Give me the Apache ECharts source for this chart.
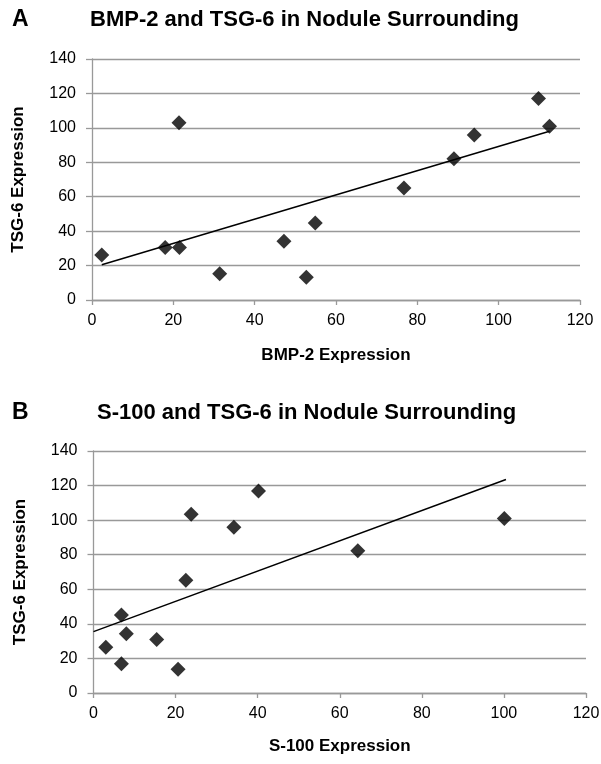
<!DOCTYPE html>
<html>
<head>
<meta charset="utf-8">
<script src="https://cdn.jsdelivr.net/npm/echarts@6/dist/echarts.min.js"></script>
<style>
html,body{margin:0;padding:0;background:#fff;}
#chart{width:601px;height:764px;}
</style>
</head>
<body>
<div id="chart"></div>
<script>
// Panel A: BMP-2 vs TSG-6
const bmp2 = [2.4, 18.0, 21.4, 21.5, 31.4, 47.2, 52.7, 54.9, 76.7, 89.0, 94.0, 109.8, 112.5];
const tsgA = [26.1, 30.5, 103.0, 30.5, 15.3, 34.1, 13.2, 44.8, 65.1, 82.1, 95.9, 117.0, 100.9];
const trendAx = [2.4, 112.5];
const trendAy = [20.5, 98.0];

// Panel B: S-100 vs TSG-6
const s100 = [3.0, 6.8, 6.8, 8.0, 15.4, 20.6, 22.5, 23.8, 34.2, 40.2, 64.4, 100.1];
const tsgB = [26.5, 45.1, 16.9, 34.3, 30.9, 13.8, 65.2, 103.4, 95.9, 116.8, 82.3, 100.9];
const trendBx = [0, 100.5];
const trendBy = [35.5, 123.5];

const xTicks = [0, 20, 40, 60, 80, 100, 120];
const yTicks = [0, 20, 40, 60, 80, 100, 120, 140];

const titles = ['BMP-2 and TSG-6 in Nodule Surrounding', 'S-100 and TSG-6 in Nodule Surrounding'];
const panelLetters = ['A', 'B'];
const xNames = ['BMP-2 Expression', 'S-100 Expression'];
const yName = 'TSG-6 Expression';

const FONT = '"Liberation Sans", Arial, sans-serif';
const zip = (a, b) => a.map((v, i) => [v, b[i]]);

function xAxis(gi, name, gap) {
  return {
    type: 'value', gridIndex: gi, min: xTicks[0], max: xTicks[xTicks.length - 1], interval: 20,
    name: name, nameLocation: 'middle', nameGap: gap,
    nameTextStyle: {fontFamily: FONT, fontWeight: 'bold', fontSize: 17, color: '#000'},
    axisLine: {show: true, onZero: false, lineStyle: {color: '#999', width: 1.3}},
    axisTick: {show: true, length: 5, lineStyle: {color: '#999', width: 1.3}},
    axisLabel: {fontFamily: FONT, fontSize: 16, color: '#000', margin: 13},
    splitLine: {show: false}
  };
}
function yAxis(gi) {
  return {
    type: 'value', gridIndex: gi, min: yTicks[0], max: yTicks[yTicks.length - 1], interval: 20,
    name: yName, nameLocation: 'middle', nameGap: 65,
    nameTextStyle: {fontFamily: FONT, fontWeight: 'bold', fontSize: 17, color: '#000'},
    axisLine: {show: true, onZero: false, lineStyle: {color: '#999', width: 1.3}},
    axisTick: {show: true, length: 6, lineStyle: {color: '#999', width: 1.3}},
    axisLabel: {fontFamily: FONT, fontSize: 16, color: '#000', margin: 16},
    splitLine: {show: true, lineStyle: {color: '#999', width: 1.3}}
  };
}
function scatter(gi, xs, ys) {
  return {
    type: 'scatter', xAxisIndex: gi, yAxisIndex: gi, data: zip(xs, ys),
    symbol: 'diamond', symbolSize: 15, itemStyle: {color: '#000'}, z: 3
  };
}
function trend(gi, xs, ys) {
  return {
    type: 'line', xAxisIndex: gi, yAxisIndex: gi, data: zip(xs, ys),
    symbol: 'none', lineStyle: {color: '#000', width: 1.5}, z: 2, silent: true
  };
}

const chart = echarts.init(document.getElementById('chart'), null, {renderer: 'canvas'});
chart.setOption({
  backgroundColor: '#fff',
  animation: false,
  title: [
    {text: panelLetters[0], left: 7, top: 3, textStyle: {fontFamily: FONT, fontWeight: 'bold', fontSize: 23, color: '#000'}},
    {text: titles[0], left: 85, top: 4, textStyle: {fontFamily: FONT, fontWeight: 'bold', fontSize: 22, color: '#000'}},
    {text: panelLetters[1], left: 7, top: 396, textStyle: {fontFamily: FONT, fontWeight: 'bold', fontSize: 23, color: '#000'}},
    {text: titles[1], left: 92, top: 397, textStyle: {fontFamily: FONT, fontWeight: 'bold', fontSize: 22, color: '#000'}}
  ],
  grid: [
    {left: 92, top: 59, width: 488, height: 241, containLabel: false, outerBoundsMode: 'none'},
    {left: 93.5, top: 451, width: 492.5, height: 242, containLabel: false, outerBoundsMode: 'none'}
  ],
  xAxis: [xAxis(0, xNames[0], 47), xAxis(1, xNames[1], 45)],
  yAxis: [yAxis(0), yAxis(1)],
  series: [
    trend(0, trendAx, trendAy), scatter(0, bmp2, tsgA),
    trend(1, trendBx, trendBy), scatter(1, s100, tsgB)
  ]
});
</script>
</body>
</html>
